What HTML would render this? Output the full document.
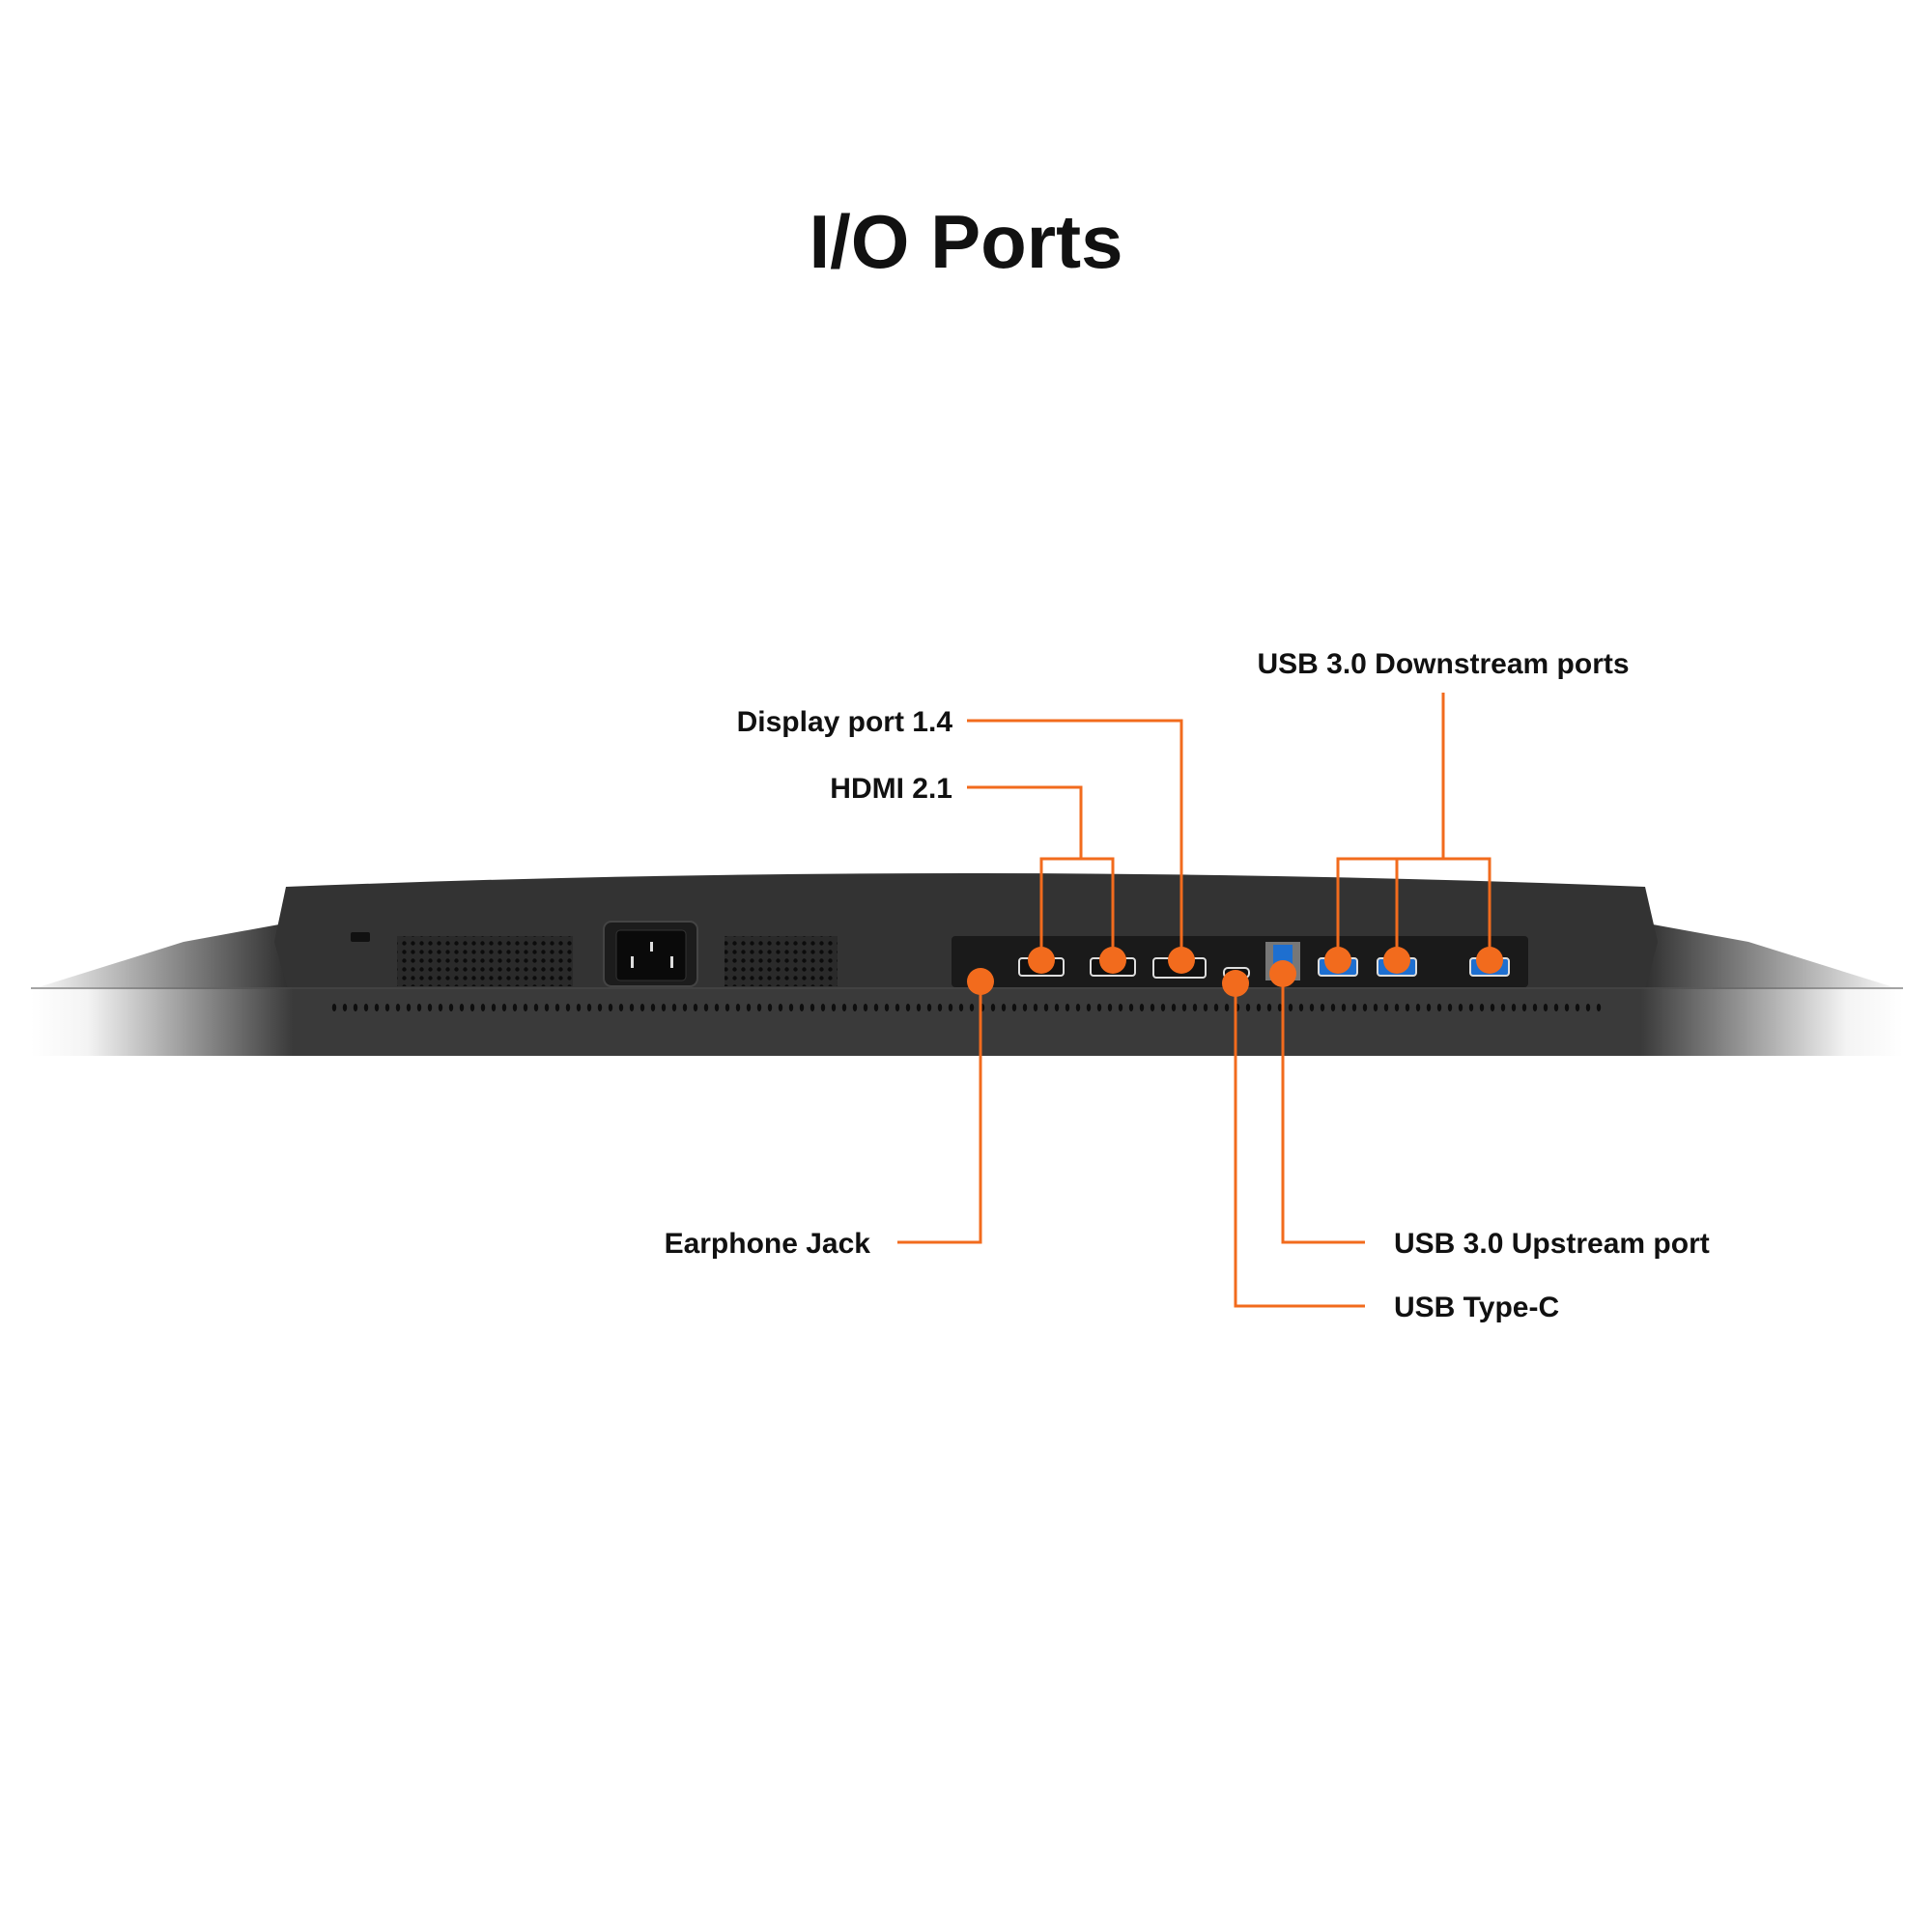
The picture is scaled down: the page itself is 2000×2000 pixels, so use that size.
<!DOCTYPE html>
<html><head><meta charset="utf-8"><style>
html,body{margin:0;padding:0;background:#fff;}
svg{display:block}
text{font-family:"Liberation Sans",sans-serif;font-weight:bold;fill:#111;}
</style></head><body>
<svg width="2000" height="2000" viewBox="0 0 2000 2000" xmlns="http://www.w3.org/2000/svg">
<defs>
<linearGradient id="band" x1="0" x2="1" y1="0" y2="0">
<stop offset="0" stop-color="#fff"/><stop offset="0.03" stop-color="#f4f4f4"/><stop offset="0.14" stop-color="#3a3a3a"/>
<stop offset="0.86" stop-color="#3a3a3a"/><stop offset="0.97" stop-color="#f4f4f4"/><stop offset="1" stop-color="#fff"/>
</linearGradient>
<linearGradient id="wl" x1="0" x2="1"><stop offset="0" stop-color="#fff"/><stop offset="1" stop-color="#2e2e2e"/></linearGradient>
<linearGradient id="wr" x1="1" x2="0"><stop offset="0" stop-color="#fff"/><stop offset="1" stop-color="#2e2e2e"/></linearGradient>
<pattern id="vent" width="9" height="9" patternUnits="userSpaceOnUse"><rect width="9" height="9" fill="#2a2a2a"/><circle cx="4.5" cy="4.5" r="2.2" fill="#0c0c0c"/></pattern>
<pattern id="dots" width="11" height="14" patternUnits="userSpaceOnUse"><ellipse cx="5" cy="7" rx="2.2" ry="4" fill="#0e0e0e"/></pattern>
</defs>
<text x="1000" y="277" font-size="78" text-anchor="middle">I/O Ports</text>
<!-- wings -->
<path d="M30 1025 L190 975 L300 955 L300 1025 Z" fill="url(#wl)"/>
<path d="M1970 1025 L1810 975 L1700 955 L1700 1025 Z" fill="url(#wr)"/>
<!-- body -->
<path d="M296 918 Q1000 890 1703 918 L1716 975 L1703 1025 L298 1025 L284 975 Z" fill="#333"/>
<!-- band -->
<rect x="32" y="1022" width="1938" height="71" fill="url(#band)"/>
<rect x="32" y="1022" width="1938" height="2" fill="#4a4a4a" opacity="0.5"/>
<rect x="340" y="1034" width="1320" height="14" fill="url(#dots)"/>
<!-- lock -->
<rect x="363" y="965" width="20" height="10" rx="2" fill="#111"/>
<!-- vents -->
<rect x="411" y="969" width="182" height="52" fill="url(#vent)"/>
<rect x="750" y="969" width="117" height="52" fill="url(#vent)"/>
<!-- power -->
<rect x="625" y="954" width="97" height="67" rx="8" fill="#1c1c1c" stroke="#444" stroke-width="2"/>
<rect x="638" y="963" width="72" height="52" rx="4" fill="#0a0a0a" stroke="#333"/>
<rect x="673" y="975" width="3" height="10" fill="#ddd"/><rect x="653" y="990" width="3" height="12" fill="#ddd"/><rect x="694" y="990" width="3" height="12" fill="#ddd"/>
<!-- port panel -->
<rect x="985" y="969" width="597" height="53" rx="4" fill="#1a1a1a"/>
<g fill="#111" stroke="#ddd" stroke-width="2">
<rect x="1055" y="992" width="46" height="18" rx="3"/><rect x="1129" y="992" width="46" height="18" rx="3"/><rect x="1194" y="992" width="54" height="20" rx="3"/>
<rect x="1267" y="1002" width="26" height="10" rx="4"/>
</g>
<rect x="1310" y="975" width="36" height="40" fill="#777"/><rect x="1318" y="978" width="20" height="32" fill="#1e6fd0"/>
<g fill="#1e6fd0" stroke="#ddd" stroke-width="2">
<rect x="1365" y="992" width="40" height="18" rx="3"/><rect x="1426" y="992" width="40" height="18" rx="3"/><rect x="1522" y="992" width="40" height="18" rx="3"/>
</g>
<!-- connectors -->
<g fill="none" stroke="#f26b1d" stroke-width="3">
<path d="M1078 994 V889 H1152 V994 M1119 889 V815 H1001"/>
<path d="M1223 994 V746 H1001"/>
<path d="M1385 994 V889 H1542 V994 M1446 889 V994 M1494 889 V717"/>
<path d="M1015 1015 V1286 H929"/>
<path d="M1328 1008 V1286 H1413"/>
<path d="M1279 1018 V1352 H1413"/>
</g>
<g fill="#f26b1d">
<circle cx="1015" cy="1016" r="14"/><circle cx="1078" cy="994" r="14"/><circle cx="1152" cy="994" r="14"/><circle cx="1223" cy="994" r="14"/>
<circle cx="1279" cy="1018" r="14"/><circle cx="1328" cy="1008" r="14"/><circle cx="1385" cy="994" r="14"/><circle cx="1446" cy="994" r="14"/><circle cx="1542" cy="994" r="14"/>
</g>
<g font-size="30">
<text x="1494" y="697" text-anchor="middle">USB 3.0 Downstream ports</text>
<text x="986" y="757" text-anchor="end">Display port 1.4</text>
<text x="986" y="826" text-anchor="end">HDMI 2.1</text>
<text x="901" y="1297" text-anchor="end">Earphone Jack</text>
<text x="1443" y="1297">USB 3.0 Upstream port</text>
<text x="1443" y="1363">USB Type-C</text>
</g>
</svg>
</body></html>
